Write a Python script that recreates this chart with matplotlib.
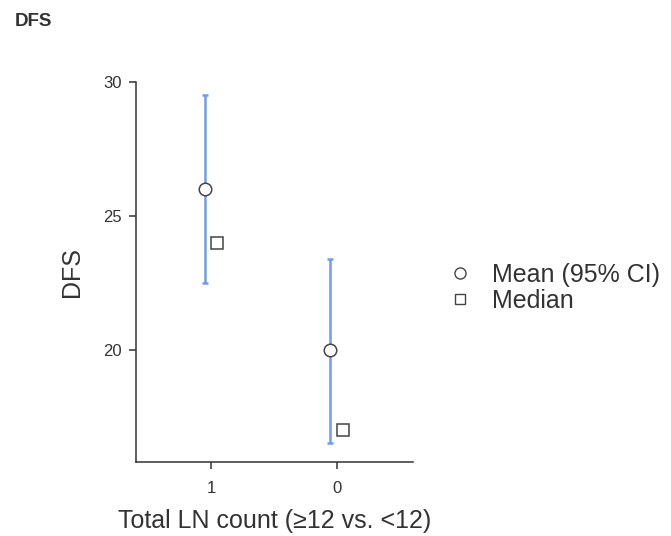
import matplotlib.pyplot as plt
from matplotlib.lines import Line2D

plt.rcParams["font.family"] = ["Liberation Sans", "DejaVu Sans"]

# data
groups = ["1", "0"]
means = [26.0, 20.0]
ci_low = [22.5, 16.5]
ci_high = [29.5, 23.4]
medians = [24.0, 17.0]

BLUE = "#6f9de8"
EDGE = "#444444"
TEXT = "#333333"

fig = plt.figure(figsize=(6.71, 5.36), dpi=100)
ax = fig.add_axes([0.2027, 0.138, 0.4128, 0.709])

pos = list(range(len(groups)))
dodge = 0.05
for i in pos:
    ax.errorbar(i - dodge, means[i],
                yerr=[[means[i] - ci_low[i]], [ci_high[i] - means[i]]],
                fmt="none", ecolor=BLUE, elinewidth=1.8, capsize=2.5, capthick=1.8, zorder=2)
ax.plot([p - dodge for p in pos], means, "o", ms=9, mfc="white", mec=EDGE, mew=1.1, ls="none", zorder=3)
ax.plot([p + dodge for p in pos], medians, "s", ms=8, mfc="white", mec=EDGE, mew=1.1, ls="none", zorder=3)

ax.set_xlim(-0.6, 1.61)
ax.set_ylim(15.8, 30.0)
ax.set_xticks(pos)
ax.set_xticklabels(groups)
ax.set_yticks([20, 25, 30])
for s in ["top", "right"]:
    ax.spines[s].set_visible(False)
for s in ["left", "bottom"]:
    ax.spines[s].set_color("#333333")
    ax.spines[s].set_linewidth(1.1)
ax.tick_params(axis="both", length=5, width=1.1, color="#333333", labelcolor=TEXT, labelsize=12, pad=5)
ax.tick_params(axis="x", pad=9)
ax.set_ylabel("DFS", fontsize=18, color=TEXT, labelpad=14)
ax.set_xlabel("Total LN count (\u226512 vs. <12)", fontsize=18, color=TEXT, labelpad=9)

handles = [
    Line2D([], [], marker="o", ms=8, mfc="white", mec=EDGE, mew=1.0, ls="none"),
    Line2D([], [], marker="s", ms=7, mfc="white", mec=EDGE, mew=1.0, ls="none"),
]
fig.legend(handles, ["Mean (95% CI)", "Median"], loc="center left",
           bbox_to_anchor=(0.633, 0.463), frameon=False, fontsize=18,
           handletextpad=0.78, labelspacing=0.1, handlelength=1.0, labelcolor=TEXT)

fig.text(0.022, 0.96, "DFS", fontsize=13.5, fontweight="bold", color=TEXT, va="center")

fig.savefig("out.png", dpi=100)
